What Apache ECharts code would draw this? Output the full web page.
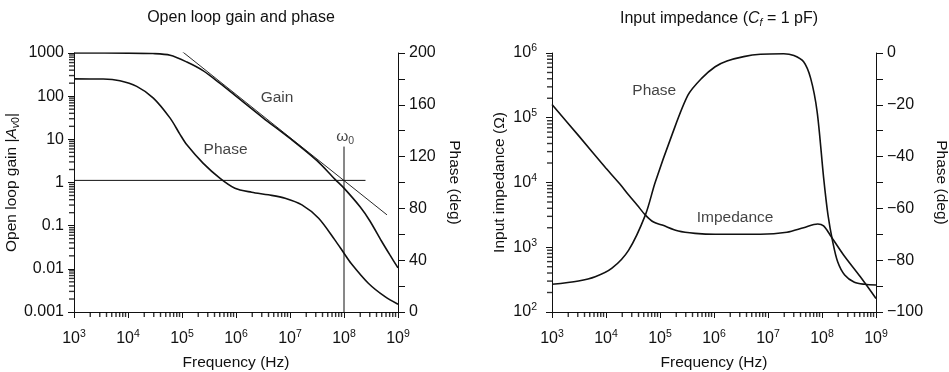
<!DOCTYPE html>
<html>
<head>
<meta charset="utf-8">
<script src="https://cdn.jsdelivr.net/npm/echarts@6/dist/echarts.min.js"></script>
<style>
html,body{margin:0;padding:0;background:#fff;}
#c{width:949px;height:372px;}
</style>
</head>
<body>
<div id="c"></div>
<script>
// ---------- Data ----------
// Left panel: open loop gain (log) and phase (deg)
const gainFreq = [1e3, 1e4, 2.9e4, 6.03e4, 1.23e5, 2.45e5, 5e5, 1e6, 3.16e6, 1e7, 3.16e7, 6.76e7, 1e8, 2e8, 3e8, 5e8, 7.08e8, 1e9];
const gainValues = [1000, 995, 970, 885, 617, 390, 200, 100, 31.6, 10.5, 3.2, 1.2, 0.74, 0.27, 0.13, 0.043, 0.021, 0.0105];

const phaseLFreq = [1e3, 3.47e3, 7.08e3, 1.45e4, 2.95e4, 6.03e4, 9.12e4, 1.23e5, 2.45e5, 5.01e5, 9.55e5, 1.95e6, 3.98e6, 8.13e6, 1.66e7, 3.39e7, 6.76e7, 1e8, 1.35e8, 2.82e8, 5.75e8, 1e9];
const phaseLValues = [180, 179.9, 178.6, 174.2, 165.2, 149.7, 137.4, 129.1, 115, 103.4, 95.6, 92.5, 90.5, 87.9, 82.7, 72.4, 55.7, 45.4, 37.6, 22.2, 11.8, 6.0];

const asymptoteFreq = [9.5e4, 6.25e8];
const asymptoteGain = [1150, 0.178];
const unityFreq = [1e3, 2.5e8];
const unityGain = [1.12, 1.12];
const omegaFreq = [1e8, 1e8];
const omegaGain = [0.001, 6.8];

// Right panel: input impedance (log) and phase (deg)
const impFreq = [1e3, 3.16e3, 1e4, 1.84e4, 2.63e4, 3.8e4, 5.37e4, 7.6e4, 1.1e5, 2.19e5, 4.47e5, 1.05e6, 7.24e6, 2.24e7, 4.57e7, 8.32e7, 1.07e8, 1.41e8, 2.51e8, 5.13e8, 1e9];
const impValues = [1.6e5, 5.2e4, 1.66e4, 9300, 6400, 4450, 3140, 2450, 2200, 1780, 1640, 1585, 1585, 1700, 2000, 2290, 2140, 1550, 760, 350, 162];

const phaseRFreq = [1e3, 3.09e3, 6.31e3, 1.29e4, 2.63e4, 5.37e4, 8.13e4, 1.66e5, 3.31e5, 5.89e5, 1.05e6, 1.74e6, 3.55e6, 7.24e6, 1.95e7, 3.02e7, 4.57e7, 6.17e7, 8.13e7, 1.07e8, 1.29e8, 1.58e8, 1.95e8, 2.63e8, 3.98e8, 6.17e8, 1e9];
const phaseRValues = [-89.3, -88, -86.4, -83.1, -76.1, -62.5, -50, -31.7, -16.2, -9.8, -5.3, -3.1, -1.4, -0.5, -0.3, -1.0, -3.4, -9.8, -22.7, -48, -62.5, -72.9, -80.6, -85.7, -88.5, -89.3, -89.6];

// Tick labels
const gainTickLabels = ['0.001', '0.01', '0.1', '1', '10', '100', '1000'];   // exponents -3..3
const phaseLTickLabels = ['0', '40', '80', '120', '160', '200'];
const phaseRTickLabels = ['\u2212100', '\u221280', '\u221260', '\u221240', '\u221220', '0'];
const minorMultipliers = [2, 3, 4, 5, 6, 7, 8, 9];

// ---------- Helpers ----------
const FONT = 'Liberation Sans, Arial, Helvetica, sans-serif';
const FS = 16;     // tick labels / titles
const FSN = 15.5;  // axis names / annotations
const BLACK = '#111';
const zip = (a, b) => a.map((v, i) => [v, b[i]]);
function minorValues(lo, hi) {
  const out = [];
  for (let e = lo; e < hi; e++) minorMultipliers.forEach(m => out.push(m * Math.pow(10, e)));
  return out;
}
const powRich = {
  b: { fontSize: FS, lineHeight: 20, color: BLACK, fontFamily: FONT },
  s: { fontSize: 10.5, lineHeight: 10, verticalAlign: 'top', color: BLACK, fontFamily: FONT }
};
const powFmt = v => '{b|10}{s|' + Math.round(Math.log10(v)) + '}';

const baseAxis = {
  axisLine: { show: true, onZero: false, lineStyle: { color: BLACK, width: 1 } },
  axisTick: { show: true, inside: false, length: 6, lineStyle: { color: BLACK, width: 1 } },
  splitLine: { show: false },
  nameMoveOverlap: false,
  nameTextStyle: { color: BLACK, fontSize: FSN, fontFamily: FONT },
};

function xAxisFor(gi) {
  return Object.assign({}, baseAxis, {
    gridIndex: gi, type: 'log', logBase: 10, min: 1e3, max: 1e9, splitNumber: 6,
    name: 'Frequency (Hz)', nameLocation: 'middle', nameGap: 43,
    axisLabel: { formatter: powFmt, rich: powRich, margin: 17, color: BLACK }
  });
}

// minor log ticks drawn as thin rect symbols placed through the axes
function tickSeries(xi, yi, data, orient) {
  return {
    type: 'scatter', xAxisIndex: xi, yAxisIndex: yi, silent: true, clip: false, z: 5,
    data: data,
    symbol: 'rect',
    symbolSize: orient === 'x' ? [1.4, 5] : [5, 1.4],
    symbolOffset: orient === 'x' ? [0, 2.5] : [-2.5, 0],
    itemStyle: { color: '#000' }
  };
}

function curve(xi, yi, data, width) {
  return {
    type: 'line', xAxisIndex: xi, yAxisIndex: yi, data: data,
    showSymbol: false, smooth: 0.3, silent: true,
    lineStyle: { color: BLACK, width: width }
  };
}

function annot(xi, yi, items) {
  return {
    type: 'scatter', xAxisIndex: xi, yAxisIndex: yi, symbolSize: 0, silent: true, z: 10,
    data: items.map(it => ({ value: it.pos, name: it.text })),
    itemStyle: { color: BLACK },
    label: {
      show: true, position: 'inside', formatter: p => p.name,
      color: BLACK, fontSize: FSN, fontFamily: FONT, textBorderWidth: 0, textBorderColor: 'transparent',
      rich: {
        w: { fontSize: FSN, color: BLACK, fontFamily: FONT, lineHeight: 20 },
        sub: { fontSize: 10.5, lineHeight: 10, verticalAlign: 'bottom', color: BLACK, fontFamily: FONT }
      }
    }
  };
}

const chart = echarts.init(document.getElementById('c'), null, { renderer: 'canvas' });

const option = {
  animation: false,
  backgroundColor: '#fff',
  textStyle: { fontFamily: FONT },
  title: [
    { text: 'Open loop gain and phase', left: 236, textAlign: 'center', top: 5,
      textStyle: { fontSize: FS, fontWeight: 'normal', color: BLACK, fontFamily: FONT } },
    { text: 'Input impedance ({i|C}{si|f} = 1 pF)', left: 714, textAlign: 'center', top: 4,
      textStyle: { fontSize: FS, fontWeight: 'normal', color: BLACK, fontFamily: FONT, lineHeight: 20,
        rich: {
          i: { fontStyle: 'italic', fontSize: FS, color: BLACK, fontFamily: FONT, lineHeight: 20 },
          si: { fontStyle: 'italic', fontSize: 10.5, lineHeight: 10, verticalAlign: 'bottom', color: BLACK, fontFamily: FONT }
        } } }
  ],
  grid: [
    { left: 74, top: 53, width: 324, height: 259, outerBoundsMode: 'none', containLabel: false },
    { left: 552, top: 53, width: 324, height: 259, outerBoundsMode: 'none', containLabel: false }
  ],
  xAxis: [xAxisFor(0), xAxisFor(1)],
  yAxis: [
    Object.assign({}, baseAxis, {
      gridIndex: 0, type: 'log', logBase: 10, min: 0.001, max: 1000, splitNumber: 6, position: 'left',
      name: 'Open loop gain |{i|A}{si|v}{sub|0}|', nameLocation: 'middle', nameGap: 52, nameRotate: 90,
      nameTextStyle: { color: BLACK, fontSize: FSN, fontFamily: FONT, lineHeight: 20,
        rich: {
          i: { fontStyle: 'italic', fontSize: FSN, color: BLACK, fontFamily: FONT, lineHeight: 20 },
          si: { fontStyle: 'italic', fontSize: 10.5, lineHeight: 10, verticalAlign: 'bottom', color: BLACK, fontFamily: FONT },
          sub: { fontSize: 10.5, lineHeight: 10, verticalAlign: 'bottom', color: BLACK, fontFamily: FONT }
        } },
      axisLabel: { color: BLACK, fontSize: FS, fontFamily: FONT, margin: 10,
        formatter: v => gainTickLabels[Math.round(Math.log10(v)) + 3] }
    }),
    Object.assign({}, baseAxis, {
      gridIndex: 0, type: 'value', min: 0, max: 200, interval: 20, position: 'right',
      axisTick: { show: true, inside: false, length: 7, lineStyle: { color: BLACK, width: 1 } },
      name: 'Phase (deg)', nameLocation: 'middle', nameGap: 48, nameRotate: -90,
      axisLabel: { color: BLACK, fontSize: FS, fontFamily: FONT, margin: 11,
        formatter: v => (v % 40 === 0 ? phaseLTickLabels[v / 40] : '') }
    }),
    Object.assign({}, baseAxis, {
      gridIndex: 1, type: 'log', logBase: 10, min: 100, max: 1e6, splitNumber: 4, position: 'left',
      name: 'Input impedance (\u03A9)', nameLocation: 'middle', nameGap: 44, nameRotate: 90,
      axisLabel: { formatter: powFmt, rich: powRich, margin: 15, color: BLACK }
    }),
    Object.assign({}, baseAxis, {
      gridIndex: 1, type: 'value', min: -100, max: 0, interval: 10, position: 'right',
      axisTick: { show: true, inside: false, length: 7, lineStyle: { color: BLACK, width: 1 } },
      name: 'Phase (deg)', nameLocation: 'middle', nameGap: 57, nameRotate: -90,
      axisLabel: { color: BLACK, fontSize: FS, fontFamily: FONT, margin: 11,
        formatter: v => (v % 20 === 0 ? phaseRTickLabels[(v + 100) / 20] : '') }
    })
  ],
  series: [
    // left panel
    curve(0, 0, zip(gainFreq, gainValues), 1.6),
    curve(0, 1, zip(phaseLFreq, phaseLValues), 1.6),
    Object.assign(curve(0, 0, zip(asymptoteFreq, asymptoteGain), 0.9), { smooth: false }),
    Object.assign(curve(0, 0, zip(unityFreq, unityGain), 1), { smooth: false }),
    Object.assign(curve(0, 0, zip(omegaFreq, omegaGain), 1), { smooth: false }),
    // right panel
    curve(1, 2, zip(impFreq, impValues), 1.6),
    curve(1, 3, zip(phaseRFreq, phaseRValues), 1.6),
    // minor log ticks
    tickSeries(0, 0, minorValues(3, 9).map(v => [v, 0.001]), 'x'),
    tickSeries(0, 0, minorValues(-3, 3).map(v => [1e3, v]), 'y'),
    tickSeries(1, 2, minorValues(3, 9).map(v => [v, 100]), 'x'),
    tickSeries(1, 2, minorValues(2, 6).map(v => [1e3, v]), 'y'),
    // annotations
    annot(0, 0, [
      { pos: [5.75e6, 92], text: 'Gain' },
      { pos: [6.4e5, 5.7], text: 'Phase' },
      { pos: [1.05e8, 11.5], text: '{w|\u03C9}{sub|0}' }
    ]),
    annot(1, 2, [
      { pos: [7.83e4, 2.57e5], text: 'Phase' },
      { pos: [2.46e6, 2820], text: 'Impedance' }
    ])
  ]
};
chart.setOption(option);
</script>
</body>
</html>
